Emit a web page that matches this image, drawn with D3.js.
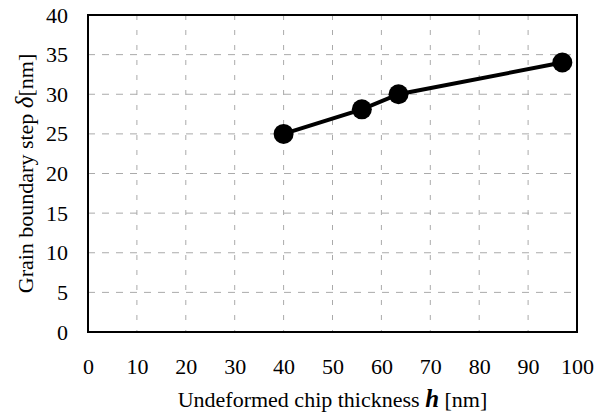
<!DOCTYPE html>
<html>
<head>
<meta charset="utf-8">
<script src="https://cdn.jsdelivr.net/npm/d3@7"></script>
<style>
  body { margin: 0; background: #fff; }
  svg text { font-family: "Liberation Serif", "DejaVu Serif", "Times New Roman", serif; fill: #000; }
</style>
</head>
<body>
<div id="chart"></div>
<script>
// Data
const thickness = [40, 56, 63.5, 97];   // h [nm]
const stepSize = [25, 28.1, 30, 34];    // delta [nm]
const xTicks = [0, 10, 20, 30, 40, 50, 60, 70, 80, 90, 100];
const yTicks = [0, 5, 10, 15, 20, 25, 30, 35, 40];

const W = 605, H = 418;
const margin = { top: 15, right: 28, bottom: 86, left: 88 };
const width = W - margin.left - margin.right;
const height = H - margin.top - margin.bottom;
const serif = "'Liberation Serif', 'DejaVu Serif', serif";

const svg = d3.select("#chart").append("svg")
    .attr("width", W)
    .attr("height", H);

const g = svg.append("g")
    .attr("transform", "translate(" + margin.left + "," + margin.top + ")");

const x = d3.scaleLinear().domain([0, 100]).range([0, width]);
const y = d3.scaleLinear().domain([0, 40]).range([height, 0]);

// dashed grid
g.append("g").selectAll("line")
    .data(xTicks.slice(1, -1))
    .enter().append("line")
    .attr("x1", d => x(d)).attr("x2", d => x(d))
    .attr("y1", 0).attr("y2", height)
    .attr("stroke", "#aaa")
    .attr("stroke-width", 1)
    .attr("stroke-dasharray", "5,10");

g.append("g").selectAll("line")
    .data(yTicks.slice(1, -1))
    .enter().append("line")
    .attr("y1", d => y(d)).attr("y2", d => y(d))
    .attr("x1", 0).attr("x2", width)
    .attr("stroke", "#aaa")
    .attr("stroke-width", 1)
    .attr("stroke-dasharray", "7,7");

// frame
g.append("rect")
    .attr("width", width)
    .attr("height", height)
    .attr("fill", "none")
    .attr("stroke", "#000")
    .attr("stroke-width", 2);

// axes (labels only)
const xAxis = g.append("g")
    .attr("transform", "translate(0," + height + ")")
    .call(d3.axisBottom(x).tickValues(xTicks).tickSize(0).tickPadding(26));
const yAxis = g.append("g")
    .call(d3.axisLeft(y).tickValues(yTicks).tickSize(0).tickPadding(20));
[xAxis, yAxis].forEach(a => {
    a.attr("font-family", serif).attr("font-size", 22);
    a.select(".domain").remove();
    a.selectAll("text").attr("fill", "#000");
});

// line + markers
const pts = thickness.map((h, i) => ({ h: h, s: stepSize[i] }));
g.append("path")
    .datum(pts)
    .attr("fill", "none")
    .attr("stroke", "#000")
    .attr("stroke-width", 4)
    .attr("d", d3.line().x(d => x(d.h)).y(d => y(d.s)));

g.selectAll(".pt")
    .data(pts)
    .enter().append("circle")
    .attr("class", "pt")
    .attr("cx", d => x(d.h))
    .attr("cy", d => y(d.s))
    .attr("r", 10)
    .attr("fill", "#000");

// axis titles
const xt = svg.append("text")
    .attr("x", margin.left + width / 2)
    .attr("y", 407)
    .attr("text-anchor", "middle")
    .attr("font-family", serif)
    .attr("font-size", 22);
xt.append("tspan").text("Undeformed chip thickness ");
xt.append("tspan").attr("font-style", "italic").attr("font-weight", "bold").attr("font-size", 25).text("h");
xt.append("tspan").text(" [nm]");

const yt = svg.append("text")
    .attr("transform", "translate(33," + (margin.top + height / 2) + ") rotate(-90)")
    .attr("text-anchor", "middle")
    .attr("font-family", serif)
    .attr("font-size", 22);
yt.append("tspan").text("Grain boundary step ");
yt.append("tspan").attr("font-style", "italic").attr("font-size", 25).text("\u03B4");
yt.append("tspan").text("[nm]");
</script>
</body>
</html>
